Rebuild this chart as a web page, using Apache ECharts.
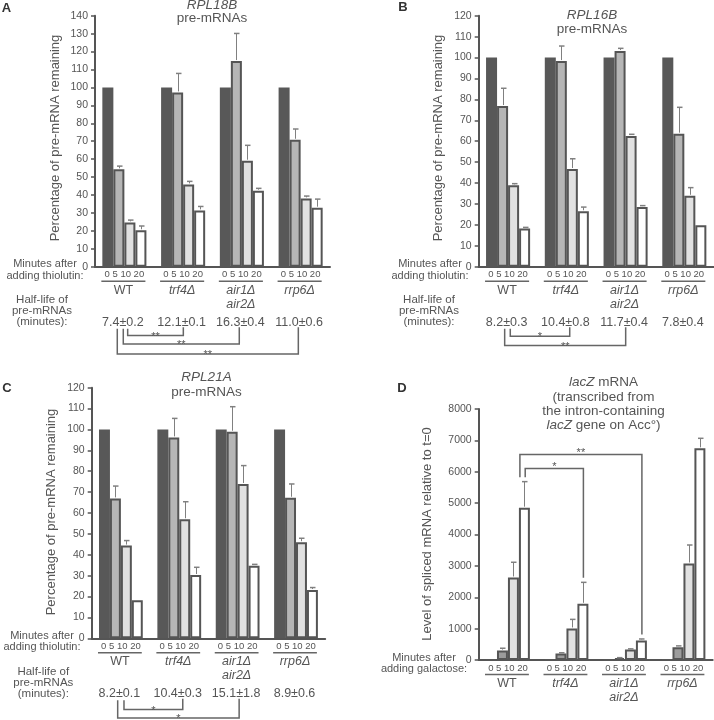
<!DOCTYPE html>
<html><head><meta charset="utf-8">
<script src="https://cdn.jsdelivr.net/npm/echarts@6/dist/echarts.min.js"></script>
<style>html,body{margin:0;padding:0;background:#fff}#c{width:714px;height:720px}</style>
</head><body><div id="c"></div>
<script>
// ---------- data ----------
const groups = ['WT', 'trf4Δ', 'air1Δ air2Δ', 'rrp6Δ'];
const timeLabels = ['0', '5', '10', '20'];

// Panel A – RPL18B pre-mRNAs (% remaining)
const A_t0 = [100, 100, 100, 100];
const A_t5 = [54.3, 97.2, 114.7, 70.8];
const A_t10 = [24.7, 45.9, 59.1, 38.1];
const A_t20 = [20.3, 31.4, 42.4, 32.9];
const A_e5 = [1.8, 10.6, 15.4, 6.0];
const A_e10 = [1.3, 1.7, 8.6, 1.3];
const A_e20 = [2.4, 2.2, 1.3, 4.8];
const A_half = ['7.4±0.2', '12.1±0.1', '16.3±0.4', '11.0±0.6'];

// Panel B – RPL16B pre-mRNAs
const B_t0 = [100, 100, 100, 100];
const B_t5 = [76.8, 98.3, 103.1, 63.6];
const B_t10 = [38.9, 46.7, 62.5, 33.9];
const B_t20 = [18.3, 26.5, 28.5, 19.8];
const B_e5 = [8.5, 7.2, 1.3, 12.6];
const B_e10 = [0.8, 4.9, 0.8, 3.9];
const B_e20 = [0.5, 2.0, 0.7, 0];
const B_half = ['8.2±0.3', '10.4±0.8', '11.7±0.4', '7.8±0.4'];

// Panel C – RPL21A pre-mRNAs
const C_t0 = [100, 100, 100, 100];
const C_t5 = [67.0, 96.2, 98.9, 67.3];
const C_t10 = [44.4, 57.0, 73.9, 46.0];
const C_t20 = [18.2, 30.3, 34.8, 23.1];
const C_e5 = [5.9, 9.1, 12.0, 6.6];
const C_e10 = [2.4, 8.4, 8.8, 1.9];
const C_e20 = [0, 3.7, 0.6, 1.2];
const C_half = ['8.2±0.1', '10.4±0.3', '15.1±1.8', '8.9±0.6'];

// Panel D – spliced lacZ mRNA relative to t=0
const D_t0 = [20, 15, 10, 15];
const D_t5 = [300, 205, 60, 410];
const D_t10 = [2630, 1005, 335, 3075];
const D_t20 = [4855, 1790, 625, 6746];
const D_e5 = [75, 25, 15, 40];
const D_e10 = [485, 290, 20, 590];
const D_e20 = [830, 685, 45, 320];

// axis settings
const A_axis = {max: 140, interval: 10};
const B_axis = {max: 120, interval: 10};
const C_axis = {max: 120, interval: 10};
const D_axis = {max: 8000, interval: 1000};

// ---------- styling ----------
const FONT = '"Liberation Sans", Arial, Helvetica, sans-serif';
const TXT = '#555';
const AX = '#555';

const panels = [
  {vals: [A_t0, A_t5, A_t10, A_t20], errs: [null, A_e5, A_e10, A_e20], axis: A_axis,
   grid: {left: 95, top: 15.7, width: 235, height: 251}},
  {vals: [B_t0, B_t5, B_t10, B_t20], errs: [null, B_e5, B_e10, B_e20], axis: B_axis,
   grid: {left: 478.7, top: 15.7, width: 235, height: 251}},
  {vals: [C_t0, C_t5, C_t10, C_t20], errs: [null, C_e5, C_e10, C_e20], axis: C_axis,
   grid: {left: 91.7, top: 387.7, width: 233.5, height: 250.6}},
  {vals: [D_t0, D_t5, D_t10, D_t20], errs: [null, D_e5, D_e10, D_e20], axis: D_axis,
   grid: {left: 478.7, top: 409, width: 234, height: 251}}
];

const fills = ['#585858', '#b6b6b6', '#e1e1e1', '#ffffff'];
const fillsD = ['#585858', '#9c9c9c', '#e1e1e1', '#ffffff'];

const grids = [], xAxes = [], yAxes = [], series = [];
panels.forEach((p, k) => {
  grids.push(Object.assign({containLabel: false}, p.grid));
  xAxes.push({type: 'category', gridIndex: k, data: groups,
    axisLine: {lineStyle: {color: AX, width: 2}}, axisTick: {show: false}, axisLabel: {show: false}});
  yAxes.push({type: 'value', gridIndex: k, min: 0, max: p.axis.max, interval: p.axis.interval,
    axisLine: {show: true, lineStyle: {color: AX, width: 2}},
    axisTick: {show: true, length: 4, lineStyle: {color: AX, width: 1.5}},
    splitLine: {show: false},
    axisLabel: {color: TXT, fontSize: 10.5, fontFamily: FONT, margin: 7, formatter: v => String(v)}});
  const f = k === 3 ? fillsD : fills;
  p.vals.forEach((arr, j) => {
    series.push({type: 'bar', xAxisIndex: k, yAxisIndex: k, data: arr,
      barGap: '0%', barCategoryGap: '25%', silent: true,
      itemStyle: j === 0 ? {color: f[0], borderColor: f[0], borderWidth: k === 3 ? 1 : 0}
                         : {color: f[j], borderColor: AX, borderWidth: 2}});
  });
  // error bars
  const ed = [];
  p.errs.forEach((e, j) => { if (e) e.forEach((v, i) => { if (v > 0) ed.push([i, p.vals[j][i], p.vals[j][i] + v, j]); }); });
  series.push({type: 'custom', xAxisIndex: k, yAxisIndex: k, data: ed, z: 5, silent: true,
    encode: {x: 0, y: [1, 2]},
    renderItem: (params, api) => {
      const gi = api.value(0), v = api.value(1), top = api.value(2), j = api.value(3);
      const base = api.coord([gi, v]);
      const tp = api.coord([gi, top]);
      const band = api.size([1, 0])[0];
      const bw = band * 0.75 / 4;
      const x = Math.round(base[0] + (j - 1.5) * bw) + 0.5;
      return {type: 'group', children: [
        {type: 'line', shape: {x1: x, y1: base[1] - 1, x2: x, y2: tp[1]}, style: {stroke: '#808080', lineWidth: 1}},
        {type: 'line', shape: {x1: x - 2.5, y1: tp[1], x2: x + 3, y2: tp[1]}, style: {stroke: '#808080', lineWidth: 1.5}}
      ]};
    }});
});

const chart = echarts.init(document.getElementById('c'), null, {renderer: 'canvas'});
chart.setOption({animation: false, backgroundColor: '#fff', grid: grids, xAxis: xAxes, yAxis: yAxes, series: series});

// ---------- annotations ----------
function T(x, y, text, size, extra) {
  const st = Object.assign({text: text, fontSize: size, fontFamily: FONT, fill: TXT, align: 'center', verticalAlign: 'middle'}, extra || {});
  return {type: 'text', x: x, y: y, style: st, z: 20, silent: true};
}
function RT(x, y, text, size, rot) {
  return {type: 'text', x: x, y: y, rotation: rot, style: {text: text, fontSize: size, fontFamily: FONT, fill: TXT, align: 'center', verticalAlign: 'middle'}, z: 20, silent: true};
}
function PL(points, w) {
  return {type: 'polyline', shape: {points: points}, style: {stroke: '#666', lineWidth: w || 1.5, fill: null}, z: 20, silent: true};
}
const G = [];
function px(k, i, v) { return chart.convertToPixel({gridIndex: k}, [i, v]); }

const groupLines = [['WT'], ['trf4Δ'], ['air1Δ', 'air2Δ'], ['rrp6Δ']];
const minutesText = ['adding thiolutin:', 'adding thiolutin:', 'adding thiolutin:', 'adding galactose:'];
const minutesX = [45, 430, 42, 424];
const halfX = [42, 429, 43.3];
const timeString = timeLabels.join(' ');

panels.forEach((p, k) => {
  const b0 = px(k, 0, 0), b1 = px(k, 1, 0);
  const band = b1[0] - b0[0], bw = band * 0.75 / 4;
  const y0 = b0[1];
  for (let i = 0; i < 4; i++) {
    const cx = px(k, i, 0)[0];
    G.push(T(cx, y0 + 8, timeString, 9.5));
    G.push(PL([[cx - 2 * bw - 1, y0 + 14.5], [cx + 2 * bw - 1, y0 + 14.5]], 1.6));
    groupLines[i].forEach((s, r) => G.push(T(cx - 1, y0 + 23.5 + r * 14, s, 12.5, i > 0 ? {fontStyle: 'italic'} : {})));
  }
  G.push(T(minutesX[k], y0 - 2.5, 'Minutes after', 11));
  G.push(T(minutesX[k], y0 + 9, minutesText[k], 11));
});

// half-life rows & significance brackets (panels A-C)
const halves = [A_half, B_half, C_half];
const brackets = [
  [[0, 1, 3.3, 0.2, 13.4, '**'], [0, 2, -1.1, -2.6, 21.7, '**'], [0, 3, -7.1, -2.3, 31.7, '**']],
  [[0, 1, 2.2, 2.9, 14, '*'], [0, 2, -3.4, 0.1, 23.3, '**']],
  [[0, 1, 3.1, 3.5, 15.7, '*'], [0, 2, -3.2, 1.5, 24.2, '*']]
];
halves.forEach((h, k) => {
  const y0 = px(k, 0, 0)[1];
  const vy = y0 + 55.5;
  G.push(T(halfX[k], vy - 22, 'Half-life of', 11.5));
  G.push(T(halfX[k], vy - 11, 'pre-mRNAs', 11.5));
  G.push(T(halfX[k], vy, '(minutes):', 11.5));
  h.forEach((s, i) => G.push(T(px(k, i, 0)[0] - 1.5, vy, s, 12.5)));
  brackets[k].forEach(b => {
    const xl = px(k, b[0], 0)[0] + b[2], xr = px(k, b[1], 0)[0] + b[3];
    const yl = vy + b[4];
    G.push(PL([[xl, vy + 6.5], [xl, yl], [xr, yl], [xr, vy + 5]], 1.5));
    G.push(T((xl + xr) / 2, yl + 1, b[5], 11));
  });
});

// panel D brackets (anchored to WT 20-min bar and target 20-min error bars)
(function () {
  const b0 = px(3, 0, 0), b1 = px(3, 1, 0);
  const bw = (b1[0] - b0[0]) * 0.75 / 4;
  const wtTop = px(3, 0, D_t20[0] + D_e20[0])[1];
  const defs = [[2, -4.5, 6550, '**'], [1, 0.8, 6100, '*']];
  defs.forEach(d => {
    const xl = px(3, 0, 0)[0] + 1.5 * bw + d[1];
    const xr = px(3, d[0], 0)[0] + 1.5 * bw + 0.5;
    const yh = px(3, 0, d[2])[1];
    const rTop = px(3, d[0], D_t20[d[0]] + D_e20[d[0]])[1];
    G.push(PL([[xl, wtTop - 4.5], [xl, yh], [xr, yh], [xr, rTop - 4.5]], 1.5));
    G.push(T((xl + xr) / 2, yh - 2, d[3], 11));
  });
})();

// titles
const italicRich = {i: {fontStyle: 'italic', fontSize: 13.5, fontFamily: FONT, fill: TXT}};
G.push(T(212, 5.5, 'RPL18B', 13.5, {fontStyle: 'italic'}));
G.push(T(212, 18.5, 'pre-mRNAs', 13.5));
G.push(T(592, 15.5, 'RPL16B', 13.5, {fontStyle: 'italic'}));
G.push(T(592, 29, 'pre-mRNAs', 13.5));
G.push(T(206.5, 377, 'RPL21A', 13.5, {fontStyle: 'italic'}));
G.push(T(206.5, 392, 'pre-mRNAs', 13.5));
G.push(T(603.5, 382.5, '{i|lacZ} mRNA', 13.5, {rich: italicRich}));
G.push(T(603.5, 397, '(transcribed from', 13.5));
G.push(T(603.5, 411.3, 'the intron-containing', 13.5));
G.push(T(603.5, 425, '{i|lacZ} gene on Acc°)', 13.5, {rich: italicRich}));

// y-axis titles
G.push(RT(55, 138, 'Percentage of pre-mRNA remaining', 13, Math.PI / 2));
G.push(RT(438, 138, 'Percentage of pre-mRNA remaining', 13, Math.PI / 2));
G.push(RT(51.7, 512, 'Percentage of pre-mRNA remaining', 13, Math.PI / 2));
G.push(RT(427, 534, 'Level of spliced mRNA relative to t=0', 13, Math.PI / 2));

// panel letters
G.push(T(6.5, 8.5, 'A', 13, {fontWeight: 'bold', fill: '#333'}));
G.push(T(403, 7, 'B', 13, {fontWeight: 'bold', fill: '#333'}));
G.push(T(7, 388, 'C', 13, {fontWeight: 'bold', fill: '#333'}));
G.push(T(402, 388, 'D', 13, {fontWeight: 'bold', fill: '#333'}));

chart.setOption({graphic: {elements: G}});
</script>
</body></html>
